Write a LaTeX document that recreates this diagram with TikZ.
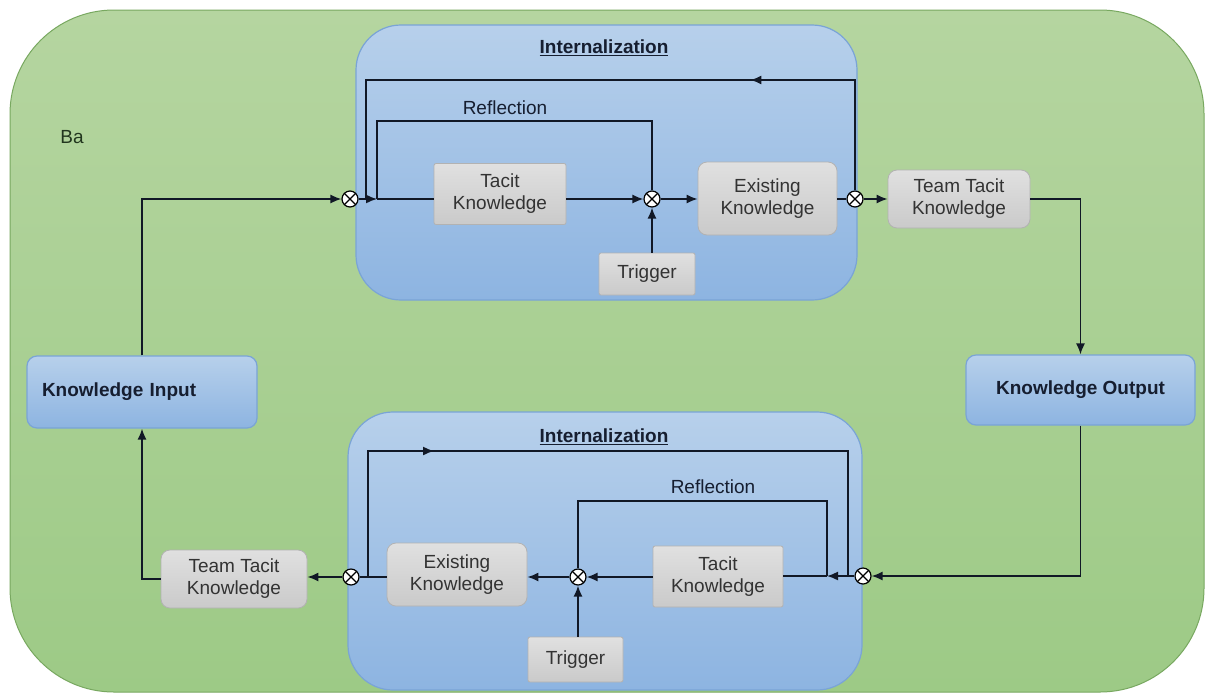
\documentclass[tikz,border=0pt]{standalone}
\usepackage{fontspec}
\setmainfont{Liberation Sans}
\usepackage{tikz}
\usetikzlibrary{positioning}
\usetikzlibrary{calc}
\usetikzlibrary{arrows.meta}
\usetikzlibrary{decorations.markings}

\definecolor{bagreentop}{RGB}{181,213,160}
\definecolor{bagreenbot}{RGB}{157,202,134}
\definecolor{bagreenline}{RGB}{120,168,96}
\definecolor{intbluetop}{RGB}{183,208,235}
\definecolor{intbluebot}{RGB}{141,180,225}
\definecolor{intblueline}{RGB}{122,164,214}
\definecolor{greytop}{RGB}{224,224,224}
\definecolor{greybot}{RGB}{202,202,202}
\definecolor{greyline}{RGB}{178,178,178}
\definecolor{greytext}{RGB}{51,51,51}
\definecolor{linecol}{RGB}{17,24,38}
\definecolor{navytext}{RGB}{22,30,48}
\definecolor{batext}{RGB}{34,54,30}

\begin{document}
\begin{tikzpicture}[x=1pt, y=-1pt,
    font=\fontsize{19}{22}\selectfont,
    flow/.style={draw=linecol, line width=1.5pt},
    arr/.style={flow, -{Latex[length=11pt,width=9pt]}},
    midarr/.style={flow, postaction={decorate},
        decoration={markings, mark=at position #1 with {\arrow{Latex[length=11pt,width=9pt]}}}},
    junction/.style={circle, draw=black, fill=white, line width=1.2pt, minimum size=16pt, inner sep=0pt,
        path picture={\draw[line width=1.1pt] (path picture bounding box.north west) -- (path picture bounding box.south east)
                      (path picture bounding box.north east) -- (path picture bounding box.south west);}},
    greybox/.style={draw=greyline, line width=0.8pt, top color=greytop, bottom color=greybot,
        text=greytext, align=center, inner sep=0pt, rounded corners=2pt},
    softbox/.style={greybox, rounded corners=9pt},
    intbox/.style={draw=intblueline, line width=1.2pt, top color=intbluetop, bottom color=intbluebot,
        rounded corners=45pt, inner sep=0pt},
    iobox/.style={draw=intblueline, line width=1.2pt, top color=intbluetop, bottom color=intbluebot,
        rounded corners=10pt, inner sep=0pt, text=navytext, font=\fontsize{19}{22}\selectfont\bfseries},
    title/.style={text=navytext, font=\fontsize{19}{22}\selectfont\bfseries},
    reflabel/.style={text=navytext}
]
    \useasboundingbox (0,0) rectangle (1206,694);
    \fill[white] (0,0) rectangle (1206,694);

    % Ba
    \draw[draw=bagreenline, line width=1pt, top color=bagreentop, bottom color=bagreenbot, rounded corners=104pt]
        (10,10) rectangle (1204,692);
    \node[text=batext] (ba) at (72,137) {Ba};

    % internalization blocks
    \node[intbox, minimum width=501pt, minimum height=275pt] (intT) at (606.5,162.5) {};
    \node[intbox, minimum width=514pt, minimum height=278pt] (intB) at (605,551) {};
    \node[title] (titT) at (604,48) {\underline{Internalization}};
    \node[title] (titB) at (604,437) {\underline{Internalization}};

    % input / output
    \node[iobox, minimum height=72pt, text width=200pt, inner xsep=15pt, align=left] (kin) at (142,392) {Knowledge Input};
    \node[iobox, minimum width=229pt, minimum height=70pt] (kout) at (1080.5,390) {Knowledge Output};

    % upper chain
    \node[junction] (jA) at (350,199) {};
    \coordinate (rT) at (377,199);
    \node[greybox, minimum width=132pt, minimum height=61pt] (tkT) at (500,194) {Tacit\\Knowledge};
    \node[junction] (jB) at (652,199) {};
    \node[greybox, minimum width=96pt, minimum height=42pt] (trT) at (647,274) {Trigger};
    \node[softbox, minimum width=139pt, minimum height=73pt] (ekT) at (767.5,198.5) {Existing\\Knowledge};
    \node[junction] (jC) at (855,199) {};
    \node[softbox, minimum width=142pt, minimum height=58pt] (ttT) at (959,199) {Team Tacit\\Knowledge};

    \coordinate (oT) at (366,199);
    \coordinate (oTtop) at (366,80);
    \coordinate (rTtop) at (377,121);
    \node[reflabel] (refT) at (505,108) {Reflection};

    \draw[arr] (kin.north) |- (jA.west);
    \draw[arr] (jA.east) -- (rT);
    \draw[flow] (rT) -- (rT -| tkT.west);
    \draw[arr] (tkT.east |- jB) -- (jB.west);
    \draw[arr] (jB |- trT.north) -- (jB.south);
    \draw[arr] (jB.east) -- (jB -| ekT.west);
    \draw[flow] (ekT.east |- jC) -- (jC.west);
    \draw[arr] (jC.east) -- (ttT.west);
    \draw[arr] (ttT.east) -| (kout.north);
    \draw[midarr=215pt] (jC.north) |- (oTtop) -- (oT);
    \draw[flow] (jB.north) |- (rTtop) -- (rT);

    % lower chain
    \node[junction] (jD) at (863,576) {};
    \coordinate (rB) at (827,576);
    \node[greybox, minimum width=130pt, minimum height=61pt] (tkB) at (718,576.5) {Tacit\\Knowledge};
    \node[junction] (jE) at (578,577) {};
    \node[greybox, minimum width=95pt, minimum height=45pt] (trB) at (575.5,659.5) {Trigger};
    \node[softbox, minimum width=140pt, minimum height=63pt] (ekB) at (457,574.5) {Existing\\Knowledge};
    \node[junction] (jF) at (351,577) {};
    \node[softbox, minimum width=146pt, minimum height=58pt] (ttB) at (234,579) {Team Tacit\\Knowledge};

    \coordinate (oB) at (368,577);
    \coordinate (oBtopL) at (368,451);
    \coordinate (oBtopR) at (848,451);
    \coordinate (oBR) at (848,576);
    \coordinate (rBtop) at (827,501);
    \node[reflabel] (refB) at (713,487) {Reflection};

    \draw[arr] (kout.south) |- (jD.east);
    \draw[arr] (jD.west) -- (rB);
    \draw[flow] (rB) -- (rB -| tkB.east);
    \draw[arr] (tkB.west |- jE) -- (jE.east);
    \draw[arr] (jE.west) -- (jE -| ekB.east);
    \draw[arr] (jE |- trB.north) -- (jE.south);
    \draw[flow] (ekB.west |- jF) -- (jF.east);
    \draw[arr] (jF.west) -- (jF -| ttB.east);
    \draw[arr] (ttB.west) -| (kin.south);
    \draw[midarr=192pt] (oB) -- (oBtopL) -- (oBtopR) -- (oBR);
    \draw[flow] (jE.north) |- (rBtop) -- (rB);
\end{tikzpicture}
\end{document}
